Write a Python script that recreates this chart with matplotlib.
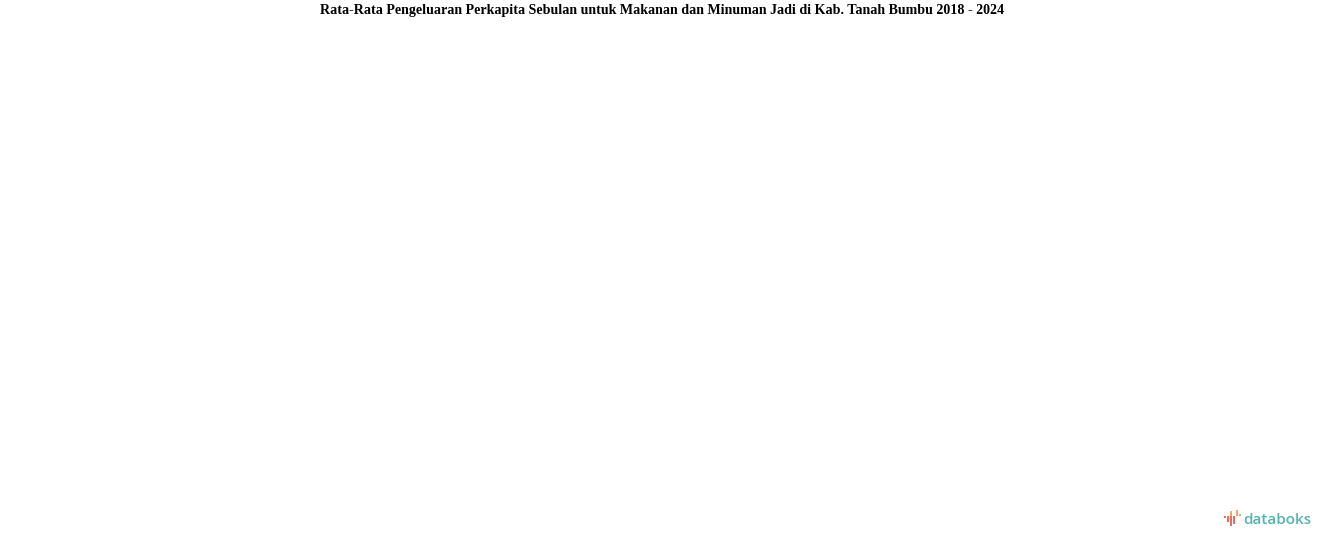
import matplotlib
matplotlib.use('Agg')
import matplotlib.pyplot as plt
from matplotlib.patches import Rectangle

# Chart data: the source chart shows no series, only the title
title = 'Rata-Rata Pengeluaran Perkapita Sebulan untuk Makanan dan Minuman Jadi di Kab. Tanah Bumbu 2018 - 2024'
years = ['2018', '2019', '2020', '2021', '2022', '2023', '2024']
values = []

W, H = 1324, 547
fig = plt.figure(figsize=(W / 100, H / 100), dpi=100)
fig.patch.set_facecolor('white')

# Empty plot area (no data drawn)
ax = fig.add_axes([0.02, 0.08, 0.96, 0.84])
ax.axis('off')

# Title
fig.text(0.5, 1 - 10.3 / H, title, ha='center', va='center',
         fontsize=10.05, fontweight='bold', family='Liberation Serif', color='black')

# databoks logo (decoration, in pixel space)
def px(x, y):
    return x / W, 1 - y / H

bars = [
    (1224, 516, 518, '#ee6b5b'),
    (1227, 516, 522, '#ee6b5b'),
    (1230, 511, 516, '#f5a56a'),
    (1230, 516, 526, '#ee6b5b'),
    (1233, 516, 524, '#ee6b5b'),
    (1236, 510, 516, '#f5a25d'),
    (1239, 514, 516, '#f5a25d'),
]
for x0, y0, y1, c in bars:
    fx, fy = px(x0, y1)
    fig.patches.append(Rectangle((fx, fy), 2 / W, (y1 - y0) / H,
                                 transform=fig.transFigure, color=c, lw=0))

lx, ly = px(1243, 519.5)
fig.text(lx, ly, 'databoks', ha='left', va='center', fontsize=11,
         fontweight='semibold', family='Open Sans', color='#4fb7b0')

fig.savefig('out.png', dpi=100, facecolor='white')
